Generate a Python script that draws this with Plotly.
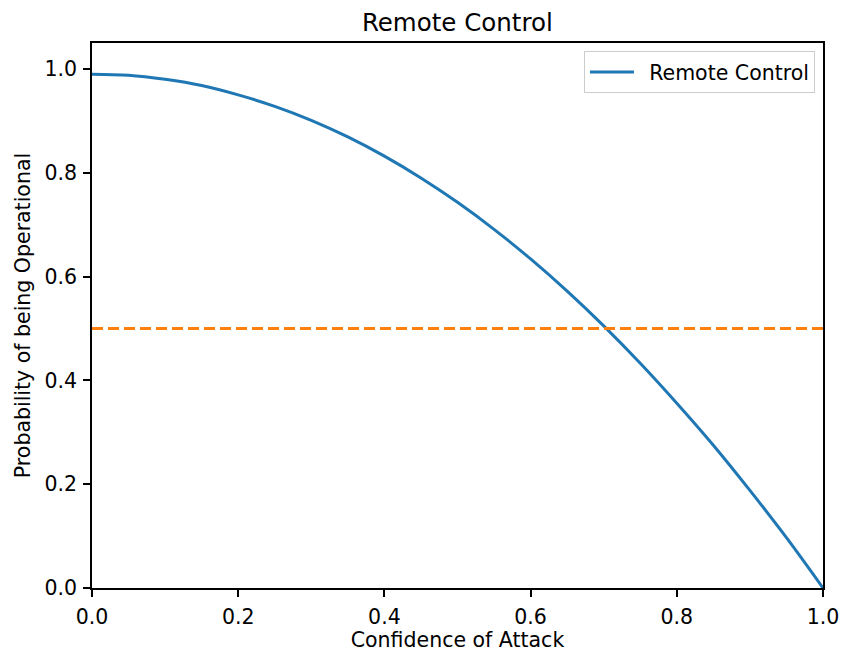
import plotly.graph_objects as go

# Confidence of attack vs. probability that the remote control stays operational
confidence = [0.00, 0.05, 0.10, 0.15, 0.20, 0.25, 0.30, 0.35, 0.40, 0.45, 0.50,
              0.55, 0.60, 0.65, 0.70, 0.75, 0.80, 0.85, 0.90, 0.95, 1.00]
prob_operational = [0.990, 0.988, 0.980, 0.968, 0.950, 0.928, 0.901, 0.869, 0.832, 0.790, 0.743,
                    0.691, 0.634, 0.572, 0.505, 0.433, 0.356, 0.275, 0.188, 0.097, 0.000]

threshold_x = [0.0, 1.0]
threshold_y = [0.5, 0.5]

x_ticks = [0.0, 0.2, 0.4, 0.6, 0.8, 1.0]
y_ticks = [0.0, 0.2, 0.4, 0.6, 0.8, 1.0]

FONT = "DejaVu Sans"
BLUE = "#1f77b4"
ORANGE = "#ff7f0e"

fig = go.Figure()
fig.add_trace(go.Scatter(
    x=confidence, y=prob_operational, mode="lines", name="\u2002Remote Control",
    line=dict(color=BLUE, width=3, shape="spline"),
))
fig.add_trace(go.Scatter(
    x=threshold_x, y=threshold_y, mode="lines", showlegend=False,
    line=dict(color=ORANGE, width=3, dash="11px,5px"),
))

axis_common = dict(
    showgrid=False, zeroline=False, showline=True, linecolor="black", linewidth=1.6,
    mirror=True, ticks="outside", ticklen=7, tickwidth=1.6, tickcolor="black",
    tickfont=dict(family=FONT, size=20.5, color="black"), automargin=False,
)

fig.update_layout(
    width=843, height=652,
    margin=dict(l=92, r=20, t=43, b=64),
    paper_bgcolor="white", plot_bgcolor="white",
    font=dict(family=FONT, color="black"),
    title=dict(text="Remote Control", x=0.5425, xanchor="center", y=0.966, yanchor="middle",
               font=dict(family=FONT, size=24.5, color="black")),
    xaxis=dict(range=[0, 1], tickvals=x_ticks, ticktext=[f"{v:.1f}" for v in x_ticks],
               ticklabelstandoff=3,
               title=dict(text="Confidence of Attack", font=dict(family=FONT, size=20.5), standoff=4),
               **axis_common),
    yaxis=dict(range=[0, 1.05], tickvals=y_ticks, ticktext=[f"{v:.1f}" for v in y_ticks],
               ticklabelstandoff=2,
               title=dict(text="Probability of being Operational", font=dict(family=FONT, size=20.5), standoff=8),
               **axis_common),
    legend=dict(x=0.989, xanchor="right", y=0.985, yanchor="top", itemwidth=44,
                bgcolor="rgba(255,255,255,0.8)", bordercolor="#cccccc", borderwidth=1,
                font=dict(family=FONT, size=20.5, color="black")),
    showlegend=True,
)

fig.write_html("out.html")
